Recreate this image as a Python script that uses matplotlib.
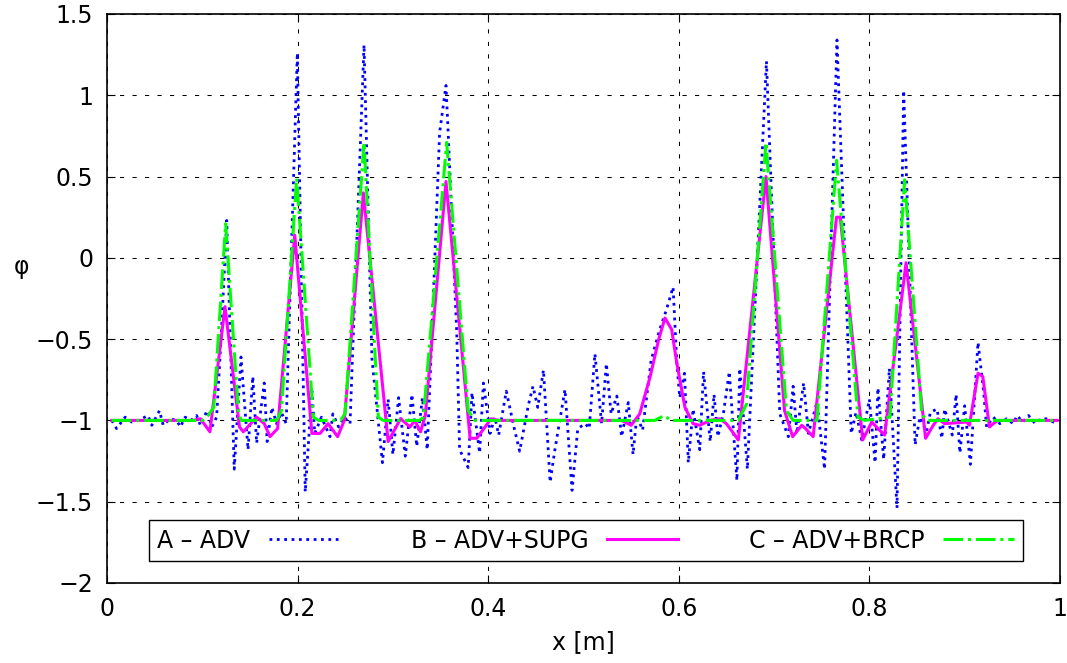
import matplotlib

matplotlib.use("Agg")
import matplotlib.pyplot as plt
from matplotlib.ticker import FuncFormatter

# Series A - ADV (blue dotted), vertices
A_x = [0.005, 0.010, 0.019, 0.026, 0.033, 0.043, 0.047, 0.055, 0.059, 0.066,
       0.073, 0.077, 0.082, 0.088, 0.094, 0.098, 0.105, 0.110, 0.115, 0.120,
       0.1256, 0.1335, 0.1406, 0.148, 0.153, 0.157, 0.165, 0.168, 0.173, 0.178,
       0.183, 0.188, 0.1997, 0.208, 0.215, 0.218, 0.225, 0.234, 0.237, 0.243,
       0.249, 0.255, 0.2697, 0.278, 0.289, 0.295, 0.300, 0.306, 0.313, 0.320,
       0.325, 0.331, 0.336, 0.341, 0.349, 0.3557, 0.358, 0.367, 0.370, 0.379,
       0.383, 0.391, 0.395, 0.402, 0.407, 0.411, 0.419, 0.427, 0.433, 0.442,
       0.447, 0.452, 0.458, 0.465, 0.470, 0.4806, 0.488, 0.494, 0.502, 0.506,
       0.512, 0.519, 0.524, 0.529, 0.535, 0.540, 0.547, 0.552, 0.556, 0.562,
       0.566, 0.571, 0.580, 0.587, 0.594, 0.598, 0.601, 0.606, 0.610, 0.615,
       0.622, 0.626, 0.633, 0.637, 0.641, 0.647, 0.653, 0.661, 0.664, 0.672,
       0.692, 0.706, 0.715, 0.720, 0.724, 0.731, 0.736, 0.745, 0.753, 0.766,
       0.781, 0.786, 0.792, 0.800, 0.806, 0.809, 0.815, 0.821, 0.829, 0.836,
       0.848, 0.853, 0.860, 0.864, 0.871, 0.876, 0.879, 0.887, 0.891, 0.895,
       0.900, 0.906, 0.914, 0.920, 0.923, 0.930, 0.937, 0.944, 0.951, 0.955,
       0.961, 0.967, 0.974, 0.980, 0.987, 0.993, 0.997]
A_y = [-1.00, -1.05, -0.98, -1.01, -1.00, -0.97, -1.03, -0.94, -1.03, -0.99,
       -1.00, -1.04, -0.98, -1.00, -0.97, -1.03, -0.94, -1.04, -0.98, -0.46,
       0.23, -1.30, -0.61, -1.18, -0.73, -1.14, -0.77, -1.13, -0.92, -1.02,
       -0.95, -1.02, 1.26, -1.44, -0.82, -1.08, -0.98, -1.10, -0.96, -1.04,
       -0.98, -1.02, 1.31, -0.62, -1.26, -0.87, -1.21, -0.86, -1.22, -0.84,
       -1.16, -0.86, -1.18, -0.46, 0.77, 1.06, 0.77, -0.46, -1.18, -1.29,
       -0.83, -1.20, -0.77, -1.08, -0.98, -1.09, -0.82, -1.04, -1.19, -0.91,
       -0.79, -0.92, -0.69, -1.38, -1.18, -0.81, -1.43, -1.05, -1.02, -1.05,
       -0.59, -1.02, -0.65, -0.96, -0.85, -1.10, -0.89, -1.21, -0.97, -1.06,
       -0.87, -0.63, -0.44, -0.32, -0.18, -0.65, -0.86, -0.71, -1.26, -0.93,
       -1.18, -0.70, -1.13, -0.84, -1.10, -0.95, -0.70, -1.37, -0.68, -1.30,
       1.21, -0.96, -1.10, -0.79, -1.08, -0.77, -1.08, -0.89, -1.30, 1.34,
       -1.08, -0.95, -1.12, -0.87, -1.26, -0.80, -1.24, -0.68, -1.54, 1.03,
       -1.15, -0.98, -1.07, -0.95, -0.93, -1.11, -0.93, -1.09, -0.84, -1.20,
       -0.91, -1.27, -0.52, -0.83, -1.04, -0.98, -1.02, -0.99, -1.02, -0.97,
       -1.01, -0.97, -1.02, -0.99, -0.99, -1.01, -1.00]

# Series B - ADV+SUPG (magenta solid)
B_x = [0.005, 0.090, 0.098, 0.108, 0.1238, 0.139, 0.143, 0.157, 0.165, 0.171,
       0.179, 0.197, 0.215, 0.2235, 0.232, 0.242, 0.249, 0.269, 0.295, 0.308,
       0.318, 0.323, 0.329, 0.334, 0.3557, 0.381, 0.388, 0.403, 0.412, 0.540,
       0.550, 0.559, 0.570, 0.579, 0.5855, 0.5925, 0.598, 0.6065, 0.615, 0.622,
       0.633, 0.643, 0.650, 0.6625, 0.6915, 0.711, 0.7195, 0.729, 0.733, 0.741,
       0.7655, 0.7695, 0.793, 0.8025, 0.809, 0.816, 0.8385, 0.859, 0.867, 0.872,
       0.879, 0.902, 0.905, 0.914, 0.919, 0.926, 0.930, 0.935, 0.997]
B_y = [-1.00, -1.00, -0.99, -1.07, -0.30, -1.04, -1.07, -0.98, -1.02, -1.10,
       -1.05, 0.14, -1.08, -1.08, -1.02, -1.10, -1.00, 0.40, -1.13, -0.99,
       -1.04, -1.00, -1.07, -0.97, 0.47, -1.11, -1.11, -0.99, -1.00, -1.00,
       -1.03, -0.96, -0.73, -0.50, -0.37, -0.44, -0.65, -0.92, -1.02, -1.03,
       -1.00, -0.99, -1.02, -1.12, 0.50, -0.94, -1.10, -1.03, -1.05, -1.10,
       0.25, 0.25, -1.12, -1.01, -1.05, -1.09, -0.03, -1.11, -1.03, -0.99,
       -1.02, -1.01, -1.03, -0.71, -0.73, -1.04, -1.02, -1.00, -1.00]

# Series C - ADV+BRCP (green dash-dot)
C_x = [0.005, 0.100, 0.106, 0.112, 0.1245, 0.138, 0.141, 0.178, 0.183, 0.199,
       0.2165, 0.222, 0.245, 0.2497, 0.2697, 0.2847, 0.290, 0.328, 0.332, 0.3564,
       0.379, 0.386, 0.575, 0.5845, 0.592, 0.6625, 0.671, 0.6915, 0.713, 0.720,
       0.745, 0.7656, 0.788, 0.795, 0.8216, 0.837, 0.855, 0.860, 0.997]
C_y = [-1.00, -1.00, -0.97, -0.92, 0.21, -0.96, -1.00, -1.00, -0.94, 0.49,
       -0.98, -1.00, -1.00, -0.96, 0.71, -0.98, -1.00, -1.00, -0.98, 0.71,
       -0.94, -1.00, -1.00, -0.97, -1.00, -1.00, -0.90, 0.71, -0.94, -1.00,
       -1.00, 0.60, -0.98, -1.00, -0.98, 0.48, -0.96, -1.00, -1.00]

labels = ["A – ADV", "B – ADV+SUPG", "C – ADV+BRCP"]
x_ticks = [0, 0.2, 0.4, 0.6, 0.8, 1]
y_ticks = [-2, -1.5, -1, -0.5, 0, 0.5, 1, 1.5]

FS = 17
plt.rcParams["font.family"] = ["DejaVu Sans"]
plt.rcParams["font.size"] = FS

fig = plt.figure(figsize=(10.67, 6.63), dpi=100)
ax = fig.add_axes([0.1003, 0.1207, 0.8931, 0.8582])

ax.plot(A_x, A_y, color="#0000ff", linestyle=":", linewidth=2.0, label=labels[0], zorder=3)
ax.plot(B_x, B_y, color="#ff00ff", linestyle="-", linewidth=2.2, label=labels[1], zorder=4)
ax.plot(C_x, C_y, color="#00ff00", linestyle="-.", linewidth=2.2, label=labels[2], zorder=5)

ax.set_xlim(0, 1)
ax.set_ylim(-2, 1.5)
ax.set_xticks(x_ticks)
ax.set_yticks(y_ticks)
fmt = FuncFormatter(lambda v, p: ("%g" % v).replace("-", "\u2212"))
ax.xaxis.set_major_formatter(fmt)
ax.yaxis.set_major_formatter(fmt)
ax.tick_params(direction="in", length=6, width=0.8, top=True, right=True,
               labelsize=FS, pad=10)
ax.grid(True, color="black", linestyle=(0, (4, 8)), linewidth=0.75)
ax.set_axisbelow(True)
for s in ax.spines.values():
    s.set_linewidth(1.2)

ax.set_xlabel("x [m]", fontsize=FS)
ax.xaxis.set_label_coords(0.5, -0.082)
ax.set_ylabel("φ", fontsize=FS, rotation=0, va="center", ha="center")
ax.yaxis.set_label_coords(-0.09, 0.555)

leg = ax.legend(loc="lower left", bbox_to_anchor=(0.044, 0.0387), ncol=3,
                markerfirst=False, handlelength=3.0, handletextpad=0.8,
                fancybox=False, edgecolor="black", framealpha=1,
                borderaxespad=0, borderpad=0.35, columnspacing=3.0,
                fontsize=FS)
leg.get_frame().set_linewidth(1.0)

fig.savefig("out.png", dpi=100)
